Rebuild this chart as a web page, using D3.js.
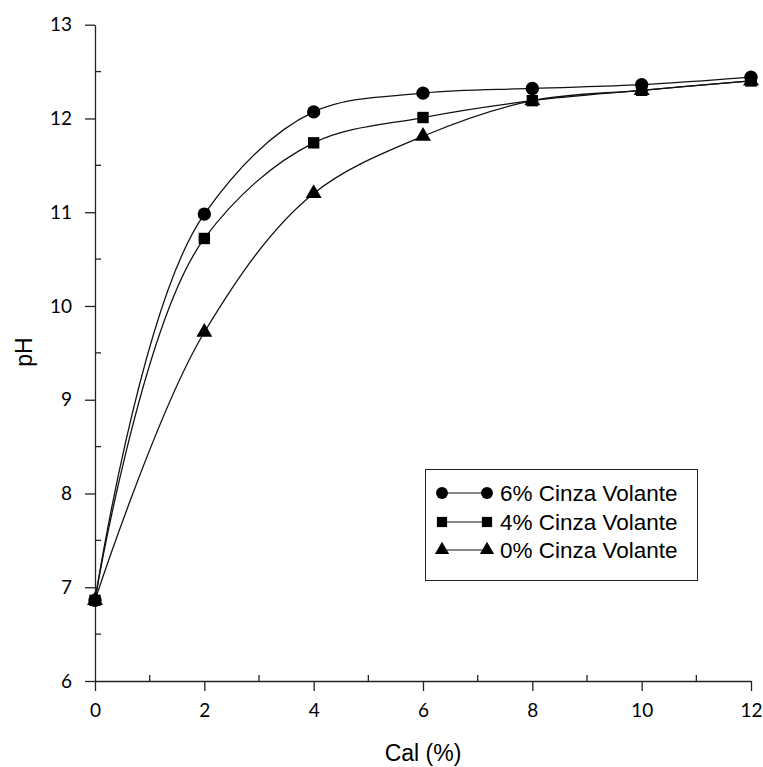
<!DOCTYPE html>
<html>
<head>
<meta charset="utf-8">
<script src="https://cdn.jsdelivr.net/npm/d3@7"></script>
<style>
  body { margin: 0; background: #fff; }
  svg { display: block; }
</style>
</head>
<body>
<div id="chart"></div>
<script>
// valores
var cal = [0, 2, 4, 6, 8, 10, 12];
var ph6 = [6.86, 10.98, 12.07, 12.27, 12.32, 12.36, 12.44];
var ph4 = [6.86, 10.72, 11.74, 12.01, 12.19, 12.30, 12.40];
var ph0 = [6.86, 9.72, 11.20, 11.81, 12.19, 12.30, 12.40];
var seriesNames = ["6% Cinza Volante", "4% Cinza Volante", "0% Cinza Volante"];
var xTicks = [0, 2, 4, 6, 8, 10, 12];
var yTicks = [6, 7, 8, 9, 10, 11, 12, 13];

var width = 763;
var height = 767;

var svg = d3.select("#chart")
    .append("svg")
    .attr("width", width)
    .attr("height", height);

var scalex = d3.scaleLinear().domain([0, 12]).range([95, 751]);
var scaley = d3.scaleLinear().domain([6, 13]).range([681, 24.7]);

var tickFont = "Lato, 'Open Sans', sans-serif";
var textFont = "Arial, 'Liberation Sans', sans-serif";

// ejes
var Xaxis = d3.axisBottom(scalex).tickValues(xTicks).tickFormat(d3.format("d"))
    .tickSize(10).tickSizeOuter(0).tickPadding(13);
var Yaxis = d3.axisLeft(scaley).tickValues(yTicks).tickFormat(d3.format("d"))
    .tickSize(10).tickSizeOuter(0).tickPadding(13);

var gx = svg.append("g").attr("transform", "translate(0," + scaley(6) + ")").call(Xaxis);
var gy = svg.append("g").attr("transform", "translate(" + scalex(0) + ",0)").call(Yaxis);

[gx, gy].forEach(function(g) {
    g.select(".domain").attr("stroke", "#222").attr("stroke-width", 1.3);
    g.selectAll(".tick line").attr("stroke", "#222").attr("stroke-width", 1.3);
    g.selectAll(".tick text").attr("font-family", tickFont).attr("font-size", 19).attr("fill", "#000");
});

// ticks menores hacia dentro
var xMinor = [1, 3, 5, 7, 9, 11];
var yMinor = [6.5, 7.5, 8.5, 9.5, 10.5, 11.5, 12.5];
svg.selectAll(".xminor").data(xMinor).enter().append("line")
    .attr("x1", (d) => scalex(d)).attr("x2", (d) => scalex(d))
    .attr("y1", scaley(6)).attr("y2", scaley(6) - 6)
    .attr("stroke", "#222").attr("stroke-width", 1.3);
svg.selectAll(".yminor").data(yMinor).enter().append("line")
    .attr("x1", scalex(0)).attr("x2", scalex(0) + 6)
    .attr("y1", (d) => scaley(d)).attr("y2", (d) => scaley(d))
    .attr("stroke", "#222").attr("stroke-width", 1.3);

// titulos
svg.append("text")
    .attr("x", 423).attr("y", 761)
    .attr("text-anchor", "middle")
    .attr("font-family", textFont).attr("font-size", 23)
    .text("Cal (%)");
svg.append("text")
    .attr("transform", "translate(32," + 352 + ") rotate(-90)")
    .attr("text-anchor", "middle")
    .attr("font-family", textFont).attr("font-size", 23)
    .text("pH");

// series
var series = [
    { name: seriesNames[0], values: ph6, symbol: d3.symbolCircle, size: 140 },
    { name: seriesNames[1], values: ph4, symbol: d3.symbolSquare, size: 130 },
    { name: seriesNames[2], values: ph0, symbol: d3.symbolTriangle, size: 110 }
];

var line = d3.line()
    .x((d) => scalex(d[0]))
    .y((d) => scaley(d[1]))
    .curve(d3.curveCatmullRom.alpha(0.75));

series.forEach(function(s) {
    var pts = cal.map((c, i) => [c, s.values[i]]);
    svg.append("path")
        .attr("d", line(pts))
        .attr("fill", "none")
        .attr("stroke", "#111")
        .attr("stroke-width", 1.3);
});

series.slice().reverse().forEach(function(s) {
    var pts = cal.map((c, i) => [c, s.values[i]]);
    var sym = d3.symbol().type(s.symbol).size(s.size);
    svg.selectAll(null).data(pts).enter().append("path")
        .attr("d", sym)
        .attr("transform", (d) => "translate(" + scalex(d[0]) + "," + scaley(d[1]) + ")")
        .attr("fill", "#000");
});

// leyenda
var legend = svg.append("g");
legend.append("rect")
    .attr("x", 425.5).attr("y", 469.5)
    .attr("width", 272).attr("height", 111)
    .attr("fill", "#fff").attr("stroke", "#222").attr("stroke-width", 1);

var rowY = [493, 522, 550];
series.forEach(function(s, i) {
    var sym = d3.symbol().type(s.symbol).size(s.size * 0.8);
    legend.append("line")
        .attr("x1", 442).attr("x2", 487)
        .attr("y1", rowY[i]).attr("y2", rowY[i])
        .attr("stroke", "#111").attr("stroke-width", 1.2);
    [442, 487].forEach(function(px) {
        legend.append("path")
            .attr("d", sym)
            .attr("transform", "translate(" + px + "," + rowY[i] + ")")
            .attr("fill", "#000");
    });
    legend.append("text")
        .attr("x", 500).attr("y", rowY[i])
        .attr("dy", "0.36em")
        .attr("font-family", textFont).attr("font-size", 22.5)
        .text(s.name);
});
</script>
</body>
</html>
